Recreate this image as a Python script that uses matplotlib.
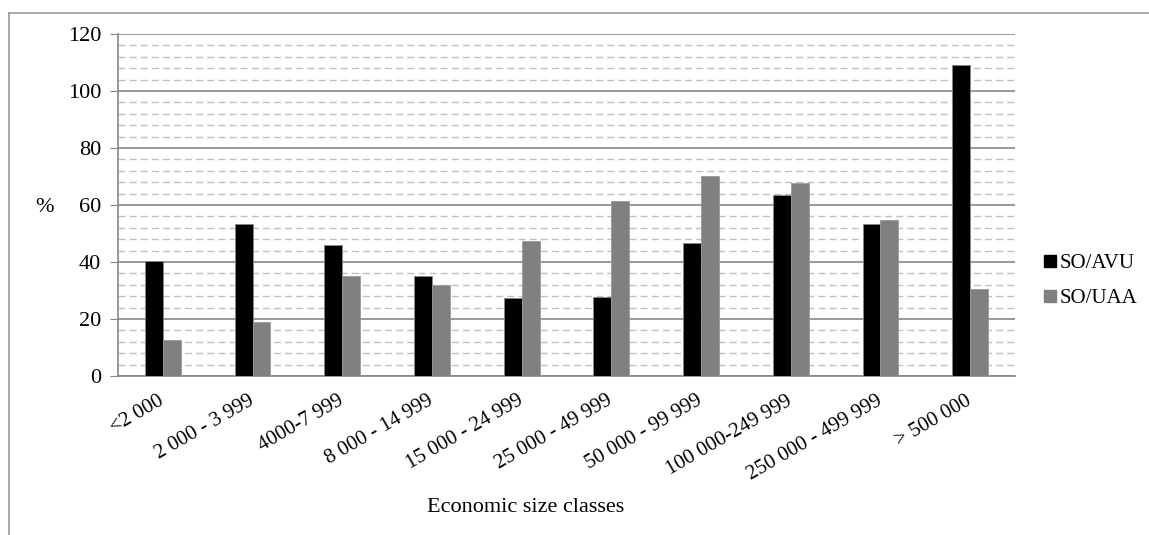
import matplotlib
matplotlib.use("Agg")
import matplotlib.pyplot as plt
import numpy as np
from matplotlib.lines import Line2D

categories = ["<2 000", "2 000 - 3 999", "4000-7 999", "8 000 - 14 999", "15 000 - 24 999",
              "25 000 - 49 999", "50 000 - 99 999", "100 000-249 999", "250 000 - 499 999", "> 500 000"]
so_avu = [40.4, 53.3, 46.0, 35.0, 27.4, 27.7, 46.7, 63.5, 53.3, 109.1]
so_uaa = [12.6, 18.9, 35.0, 32.0, 47.4, 61.4, 70.2, 67.7, 54.7, 30.5]
series_names = ["SO/AVU", "SO/UAA"]

plt.rcParams['font.family'] = ['Liberation Serif', 'DejaVu Serif']

W, H = 1149, 535
fig = plt.figure(figsize=(W/100, H/100), dpi=100)
ax = fig.add_axes([118/W, 1-376/H, (1015-118)/W, (376-34)/H])

x = np.arange(len(categories))
bw = 0.2
ax.bar(x - bw/2, so_avu, width=bw, color='black', edgecolor='#888888', linewidth=0.6, zorder=3)
ax.bar(x + bw/2, so_uaa, width=bw, color='#808080', edgecolor='#999999', linewidth=0.6, zorder=3)

ax.set_xlim(-0.5, len(categories) - 0.5)
ax.set_ylim(0, 120)
ax.set_yticks(np.arange(0, 121, 20))
ax.set_yticks(np.arange(0, 121, 4), minor=True)
ax.yaxis.grid(True, which='major', color='#888888', linewidth=1.2, zorder=0)
ax.yaxis.grid(True, which='minor', color='#c0c0c0', linewidth=1.0, linestyle=(0, (5, 3)), zorder=0)
ax.tick_params(axis='y', which='major', length=6, color='#888888', labelsize=16, pad=6)
ax.tick_params(axis='y', which='minor', length=0)
ax.set_xticks(x)
ax.set_xticklabels(categories, rotation=30, ha='right', va='center', rotation_mode='anchor', fontsize=15)
ax.tick_params(axis='x', length=0, pad=17)
for s in ['top', 'right']:
    ax.spines[s].set_visible(False)
ax.spines['left'].set_color('#888888')
ax.spines['bottom'].set_color('#888888')
ax.spines['left'].set_linewidth(1.2)
ax.spines['bottom'].set_linewidth(1.2)

fig.text(45/W, 1-207/H, "%", fontsize=16, ha='center', va='center')
fig.text(526/W, 1-508/H, "Economic size classes", fontsize=16, ha='center', va='center')

handles = [Line2D([], [], marker='s', linestyle='none', markersize=9, color='black'),
           Line2D([], [], marker='s', linestyle='none', markersize=9, color='#808080')]
leg = fig.legend(handles, series_names, loc='center left', bbox_to_anchor=(1042/W, 1-281/H),
                 frameon=False, fontsize=15, handletextpad=0.05, labelspacing=0.75, handlelength=0.8,
                 borderpad=0, borderaxespad=0)

# outer frame
fig.add_artist(Line2D([9/W, 1.0], [1-13/H, 1-13/H], transform=fig.transFigure, color='#999999', linewidth=1.2))
fig.add_artist(Line2D([9/W, 9/W], [1-13/H, 0], transform=fig.transFigure, color='#999999', linewidth=1.2))

fig.savefig("out.png", dpi=100)
